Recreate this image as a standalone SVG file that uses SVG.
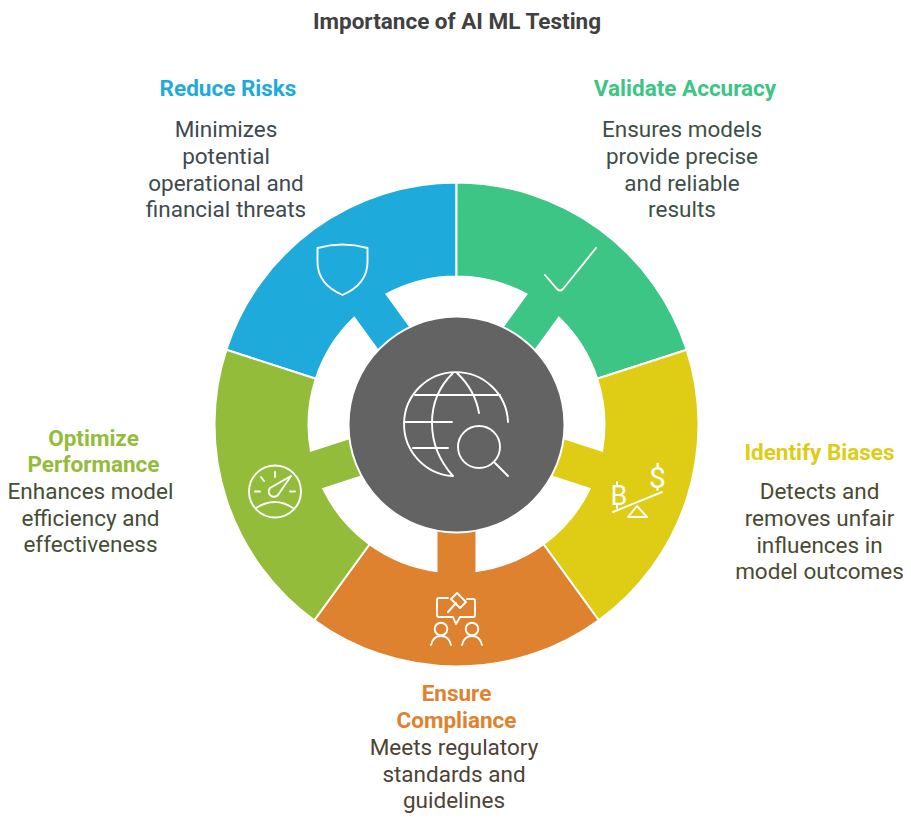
<svg xmlns="http://www.w3.org/2000/svg" width="911" height="826" viewBox="0 0 911 826">
<style>
text{font-family:Roboto,"Liberation Sans",sans-serif;text-anchor:middle;font-size:22.5px}
.h{font-weight:700}
.title{font-weight:700;fill:#404040}
.seg{stroke:#fff;stroke-width:2;stroke-linejoin:miter}
.ic{fill:none;stroke:#fff;stroke-width:1.9;stroke-linecap:round;stroke-linejoin:round}
text.b{fill:#fff;font-weight:400;font-size:27px}
text.d{fill:#fff;font-weight:400;font-size:30px}
</style>
<defs>
<path id="s" d="M-142.24-195.78A242 242 0 0 1 142.24-195.78L87-119.7A148 148 0 0 0 20-146.6V-100H-20V-146.6A148 148 0 0 0 -87-119.7Z"/>
</defs>
<rect width="911" height="826" fill="#fff"/>
<text class="title" x="457" y="29">Importance of AI ML Testing</text>
<g id="connectors"></g>
<g id="reduce-risks">
<use href="#s" class="seg" fill="#1EAADB" transform="translate(456.500 424.500) rotate(-36)"/>
<path class="ic" d="M317.500 248Q342.500 241 367.500 248V262Q367.500 284 342.500 295Q317.500 284 317.500 262Z"/>
<text class="h" x="228" y="96" fill="#1EAADB">Reduce Risks</text>
<g fill="#3E4A50"><text x="226" y="137">Minimizes</text><text x="226" y="164">potential</text><text x="226" y="191">operational and</text><text x="226" y="217">financial threats</text></g>
</g>
<g id="validate-accuracy">
<use href="#s" class="seg" fill="#3DC585" transform="translate(456.500 424.500) rotate(36)"/>
<path class="ic" d="M545 275L557 289Q560 292 563 289L596 248"/>
<text class="h" x="685" y="96" fill="#3DC585">Validate Accuracy</text>
<g fill="#3E4F48"><text x="682" y="137">Ensures models</text><text x="682" y="164">provide precise</text><text x="682" y="191">and reliable</text><text x="682" y="217">results</text></g>
</g>
<g id="identify-biases">
<use href="#s" class="seg" fill="#DFCC14" transform="translate(456.500 424.500) rotate(108)"/>
<text class="b" x="619" y="505">B</text><text class="d" x="657.500" y="488">$</text>
<path class="ic" d="M613 512L662 492M628 517L637 506L647 517ZM617 482V485M617 505V508"/>
<text class="h" x="819.500" y="460" fill="#DFCC14">Identify Biases</text>
<g fill="#4A4A32"><text x="819.500" y="499">Detects and</text><text x="819.500" y="526">removes unfair</text><text x="819.500" y="553">influences in</text><text x="819.500" y="579">model outcomes</text></g>
</g>
<g id="ensure-compliance">
<use href="#s" class="seg" fill="#DF8230" transform="translate(456.500 424.500) rotate(180)"/>
<path class="ic" d="M448 598H439Q437 598 437 600V615Q437 617 439 617H453L456 624L460 617H473Q475 617 475 615V601Q475 599 473 599H467"/>
<path class="ic" d="M448 612L456 603M451 599L457 593L466 602L460 608Z"/>
<circle class="ic" cx="441" cy="629" r="6.300"/><circle class="ic" cx="472" cy="629" r="6.300"/>
<path class="ic" d="M431 645Q433 636 441 636Q449 636 451 645M462 645Q464 636 472 636Q480 636 482 645"/>
<text class="h" x="456.500" y="701" fill="#DF8230">Ensure</text><text class="h" x="456.500" y="728" fill="#DF8230">Compliance</text>
<g fill="#4D4236"><text x="454" y="755">Meets regulatory</text><text x="454" y="782">standards and</text><text x="454" y="808">guidelines</text></g>
</g>
<g id="optimize-performance">
<use href="#s" class="seg" fill="#92BC39" transform="translate(456.500 424.500) rotate(252)"/>
<circle class="ic" cx="275" cy="491.500" r="26"/>
<path class="ic" d="M256 508Q275 496 293 508M291 476L270 488A4.500 4.500 0 1 0 278 495ZM255 491.500H260M290 491.500H295M261 477L264 481M275 472V477"/>
<text class="h" x="93.500" y="446" fill="#92BC39">Optimize</text><text class="h" x="93.500" y="472" fill="#92BC39">Performance</text>
<g fill="#454D35"><text x="90.500" y="499">Enhances model</text><text x="90.500" y="526">efficiency and</text><text x="90.500" y="552">effectiveness</text></g>
</g>
<g id="center">
<circle cx="456.500" cy="424.500" r="108" fill="#636363" stroke="#fff" stroke-width="2"/>
<g class="ic">
<path d="M508 422A52 52 0 1 0 453 476C425 445 425 400 453 373M457 373Q475 390 479 413M415 395H500M404 422H452M413 448H448"/>
<circle cx="479" cy="447" r="21"/><path d="M495 463L508 476"/>
</g>
</g>
</svg>
